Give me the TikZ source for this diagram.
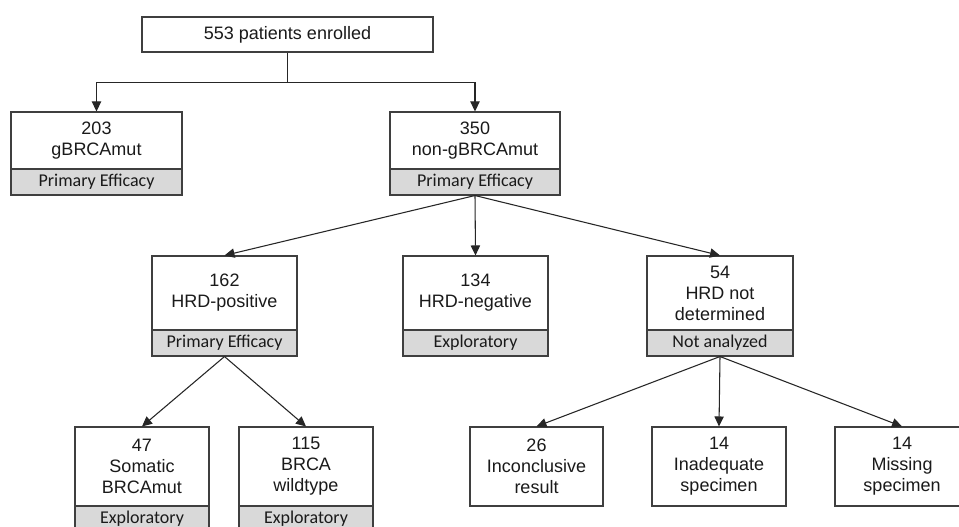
\documentclass[tikz,border=0pt]{standalone}
\usepackage{fontspec}
\setmainfont{Liberation Sans}
\newfontfamily\bandfont{Carlito}
\usetikzlibrary{arrows.meta}
\definecolor{boxgray}{HTML}{3F3F3F}
\definecolor{bandgray}{HTML}{D9D9D9}
\definecolor{linegray}{HTML}{262626}
\definecolor{txt}{HTML}{1A1A1A}
\newcommand\rbox[7]{\node[#1, minimum width={(#5-#3)*0.75pt}, minimum height={(#6-#4)*0.75pt}] (#2) at ({(#3+#5)/2},{(#4+#6)/2}) {#7};}
\begin{document}
\begin{tikzpicture}[x=0.75pt,y=-0.75pt,
  box/.style={draw=boxgray, line width=0.8pt, inner sep=0pt, align=center, text=txt, font=\fontsize{13.5}{15.75}\selectfont},
  band/.style={box, fill=bandgray, font=\bandfont\fontsize{13.5}{15.75}\selectfont},
  arr/.style={draw=linegray, line width=0.8pt, -{Triangle[length=7.5pt,width=7pt]}},
  conn/.style={draw=linegray, line width=0.8pt}]
\useasboundingbox (0,0) rectangle (959,527);
\clip (0,0) rectangle (959,527);
\fill[white] (0,0) rectangle (959,527);
% level 0
\rbox{box}{top}{142}{17}{433}{52}{553 patients enrolled}
% level 1
\rbox{box}{b203}{11}{112}{182}{169}{203\\gBRCAmut}
\rbox{band}{b203f}{11}{169}{182}{195}{Primary Efficacy}
\rbox{box}{b350}{390}{112}{560}{169}{350\\non-gBRCAmut}
\rbox{band}{b350f}{390}{169}{560}{195}{Primary Efficacy}
% level 2
\rbox{box}{b162}{152}{256}{297}{330}{162\\HRD-positive}
\rbox{band}{b162f}{152}{330}{297}{356}{Primary Efficacy}
\rbox{box}{b134}{403}{256}{548}{330}{134\\HRD-negative}
\rbox{band}{b134f}{403}{330}{548}{356}{Exploratory}
\rbox{box}{b54}{647}{256}{793}{330}{54\\HRD not\\determined}
\rbox{band}{b54f}{647}{330}{793}{356}{Not analyzed}
% level 3
\rbox{box}{b47}{75}{427}{209}{506}{47\\Somatic\\BRCAmut}
\rbox{band}{b47f}{75}{506}{209}{532}{Exploratory}
\rbox{box}{b115}{239}{427}{373}{506}{115\\BRCA\\wildtype}
\rbox{band}{b115f}{239}{506}{373}{532}{Exploratory}
\rbox{box}{b26}{470}{427}{603}{506}{26\\Inconclusive\\result}
\rbox{box}{b14a}{652}{427}{786}{506}{14\\Inadequate\\specimen}
\rbox{box}{b14b}{835}{427}{969}{506}{14\\Missing\\specimen}
% connectors
\draw[conn] (top.south) -- ++(0,30) coordinate (j);
\draw[arr] (j) -| (b203.north);
\draw[arr] (j) -| (b350.north);
\draw[arr] (b350f.south) -- (b162.north);
\draw[arr] (b350f.south) -- (b134.north);
\draw[arr] (b350f.south) -- (b54.north);
\draw[arr] (b162f.south) -- (b47.north);
\draw[arr] (b162f.south) -- (b115.north);
\draw[arr] (b54f.south) -- (b26.north);
\draw[arr] (b54f.south) -- (b14a.north);
\draw[arr] (b54f.south) -- (b14b.north);
\end{tikzpicture}
\end{document}
